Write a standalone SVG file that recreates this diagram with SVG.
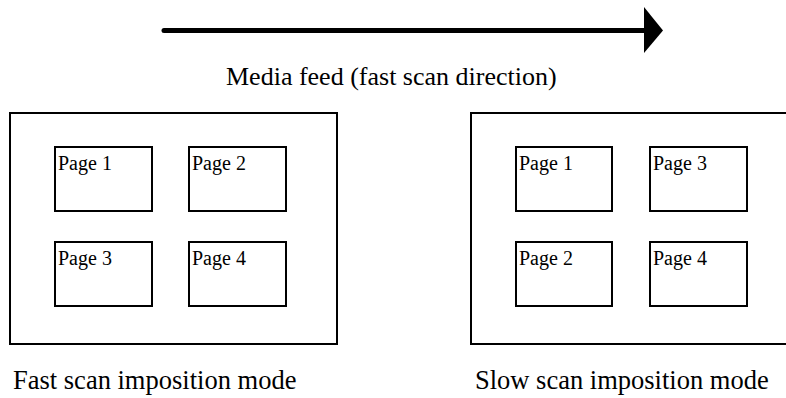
<svg xmlns="http://www.w3.org/2000/svg" width="786" height="398" viewBox="0 0 786 398">
<style>
.box{fill:#fff;stroke:#000;stroke-width:2}
.lbl{font-family:"Liberation Serif","Times New Roman",serif;font-size:20px;fill:#000}
.cap{font-family:"Liberation Serif","Times New Roman",serif;font-size:26.5px;fill:#000}
.feed{font-family:"Liberation Serif","Times New Roman",serif;font-size:26px;fill:#000}
</style>
<rect width="786" height="398" fill="#fff"/>
<g id="connectors">
<line x1="164" y1="30.5" x2="646" y2="30.5" stroke="#000" stroke-width="5" stroke-linecap="round"/>
<polygon points="644,7 663,30.5 644,53" fill="#000"/>
</g>
<text class="feed" x="226" y="85">Media feed (fast scan direction)</text>
<g id="fast-sheet">
<rect class="box" x="10" y="113" width="327" height="231"/>
<text class="cap" x="13" y="389">Fast scan imposition mode</text>
</g>
<g id="fast-page1"><rect class="box" x="55" y="147" width="97" height="64"/><text class="lbl" x="58" y="170">Page 1</text></g>
<g id="fast-page2"><rect class="box" x="189" y="147" width="97" height="64"/><text class="lbl" x="192" y="170">Page 2</text></g>
<g id="fast-page3"><rect class="box" x="55" y="242" width="97" height="64"/><text class="lbl" x="58" y="265">Page 3</text></g>
<g id="fast-page4"><rect class="box" x="189" y="242" width="97" height="64"/><text class="lbl" x="192" y="265">Page 4</text></g>
<g id="slow-sheet">
<rect class="box" x="471" y="113" width="330" height="231"/>
<text class="cap" x="475" y="389">Slow scan imposition mode</text>
</g>
<g id="slow-page1"><rect class="box" x="516" y="147" width="96" height="64"/><text class="lbl" x="519" y="170">Page 1</text></g>
<g id="slow-page3"><rect class="box" x="650" y="147" width="97" height="64"/><text class="lbl" x="653" y="170">Page 3</text></g>
<g id="slow-page2"><rect class="box" x="516" y="242" width="96" height="64"/><text class="lbl" x="519" y="265">Page 2</text></g>
<g id="slow-page4"><rect class="box" x="650" y="242" width="97" height="64"/><text class="lbl" x="653" y="265">Page 4</text></g>
</svg>
